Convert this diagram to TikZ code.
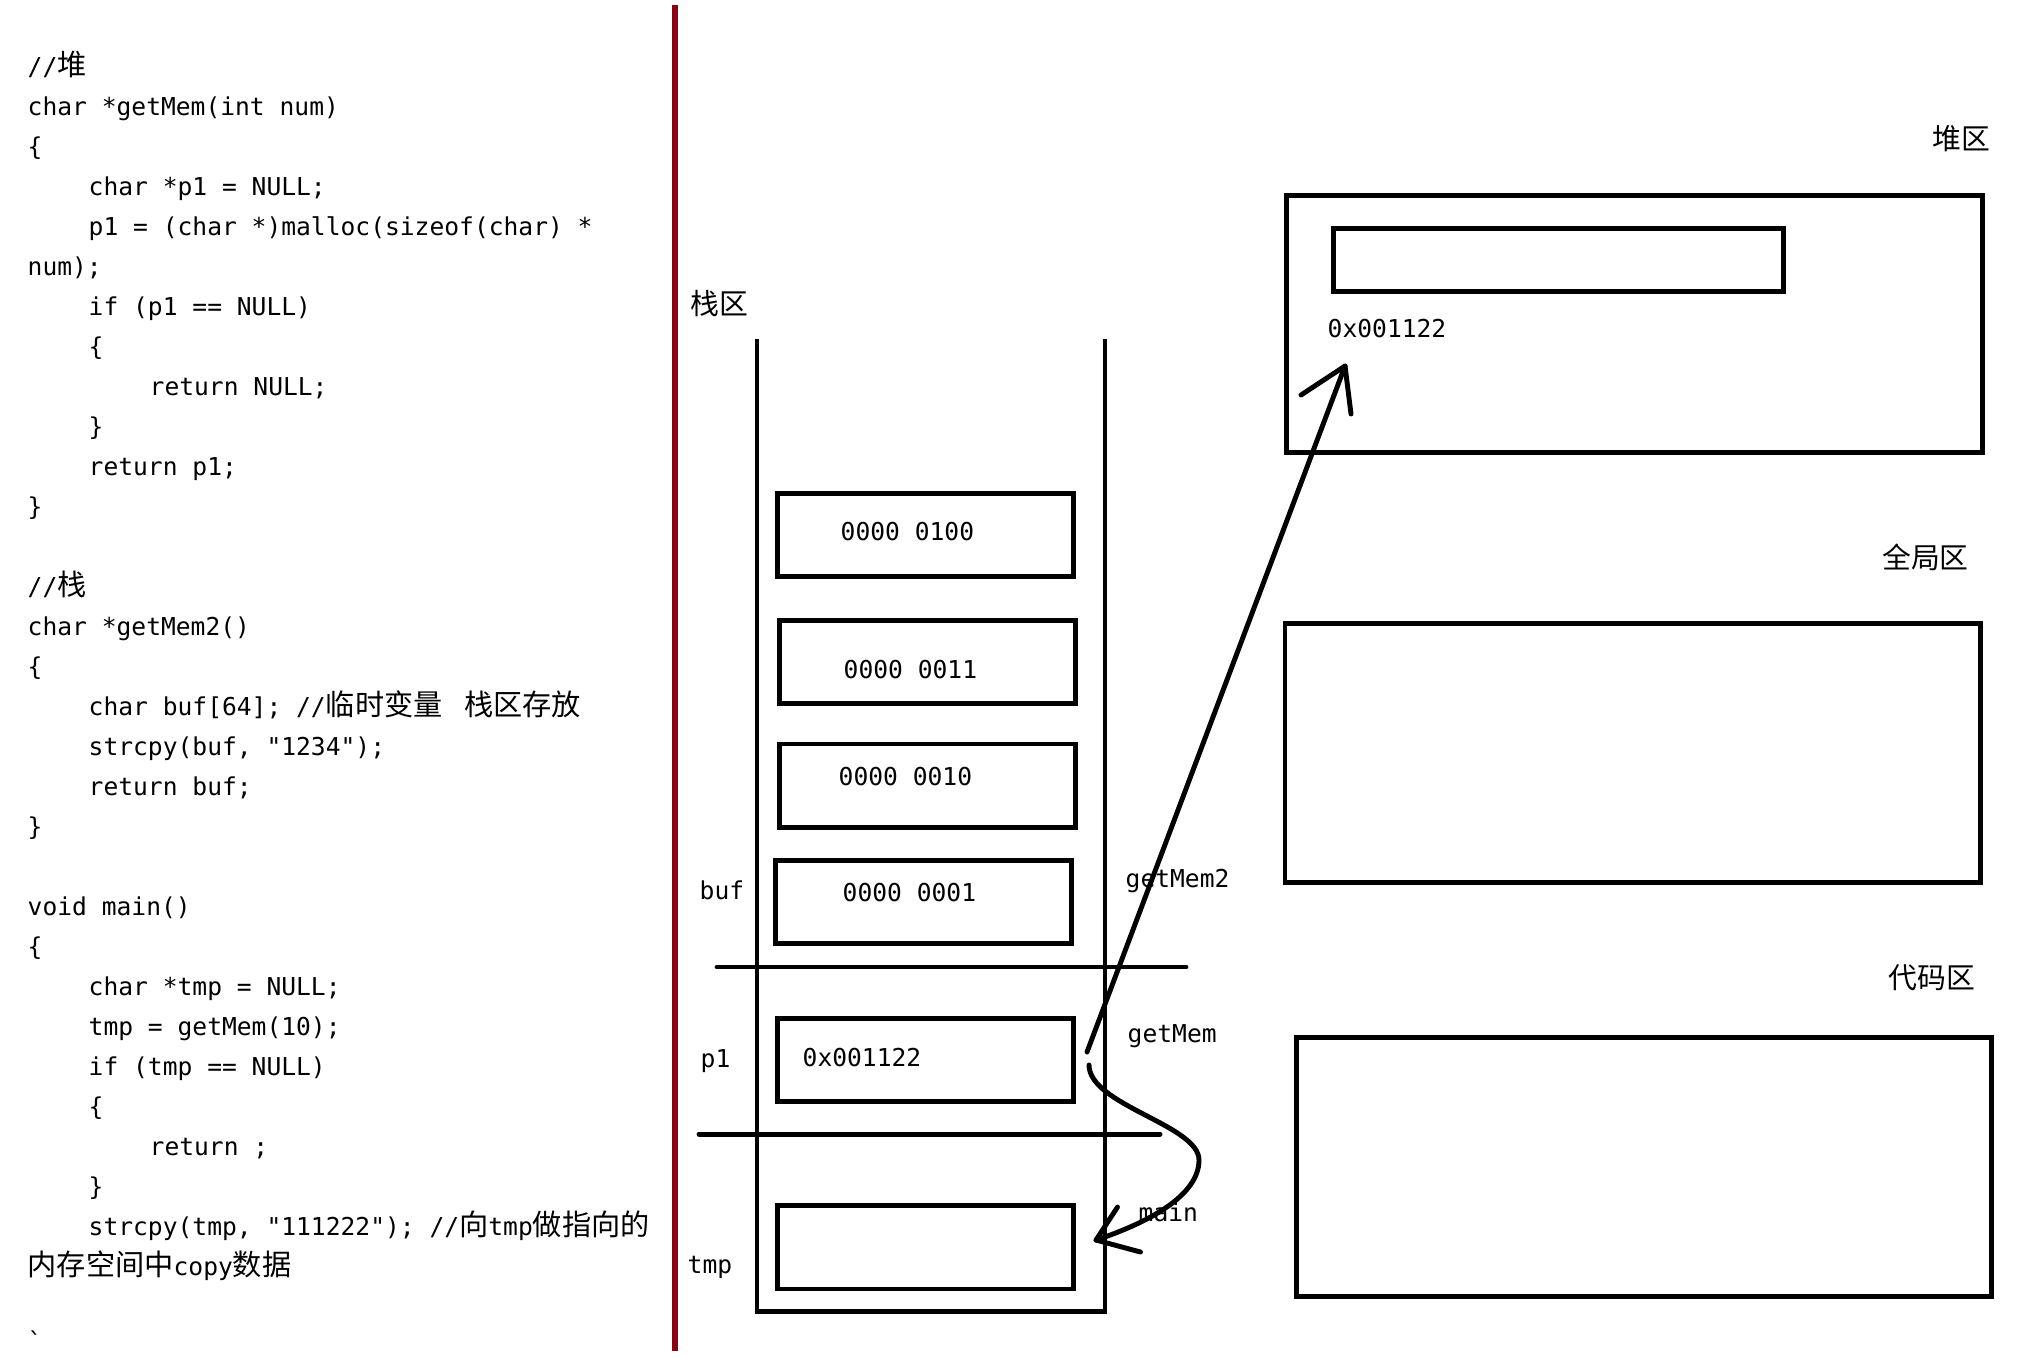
\documentclass[tikz,border=0pt]{standalone}
\usepackage{fontspec}
\newfontfamily\codefont{DejaVu Sans Mono}
\newfontfamily\cjkfont{Noto Sans CJK SC}
\newcommand\zhs[1]{{\cjkfont\fontsize{8.3pt}{11pt}\selectfont #1}}
\definecolor{divred}{RGB}{140,0,22}
\tikzset{
  lw/.style={line width=1.4pt},
  cell/.style={draw, lw, inner sep=0pt, minimum width=2.965cm, minimum height=0.83cm},
  area/.style={draw, lw, inner sep=0pt, minimum width=6.95cm, minimum height=2.59cm},
  code/.style={anchor=base west, inner sep=0pt, font={\codefont\fontsize{7pt}{11pt}\selectfont}},
  zone/.style={anchor=center, inner sep=0pt, font={\cjkfont\fontsize{8.2pt}{10pt}\selectfont}},
  pen/.style={lw, line cap=round, line join=round},
  wall/.style={lw},
  divider/.style={line width=1.45pt, color=divred}
}
\begin{document}
\begin{tikzpicture}[x=0.01cm, y=-0.01cm]
\useasboundingbox (0,0) rectangle (2022,1356);
\fill[white] (0,0) rectangle (2022,1356);

% ---------- code ----------
\node[code] (c0) at (27,75) {//\zhs{堆}};
\node[code] (c1) at (27,115) {char *getMem(int num)};
\node[code] (c2) at (27,155) {\{};
\node[code] (c3) at (88,195) {char *p1 = NULL;};
\node[code] (c4) at (88,235) {p1 = (char *)malloc(sizeof(char) *};
\node[code] (c5) at (27,275) {num);};
\node[code] (c6) at (88,315) {if (p1 == NULL)};
\node[code] (c7) at (88,355) {\{};
\node[code] (c8) at (149,395) {return NULL;};
\node[code] (c9) at (88,435) {\}};
\node[code] (c10) at (88,475) {return p1;};
\node[code] (c11) at (27,515) {\}};
\node[code] (c13) at (27,595) {//\zhs{栈}};
\node[code] (c14) at (27,635) {char *getMem2()};
\node[code] (c15) at (27,675) {\{};
\node[code] (c16) at (88,715) {char buf[64]; //\zhs{临时变量 \kern0.15cm栈区存放}};
\node[code] (c17) at (88,755) {strcpy(buf, "1234");};
\node[code] (c18) at (88,795) {return buf;};
\node[code] (c19) at (27,835) {\}};
\node[code] (c21) at (27,915) {void main()};
\node[code] (c22) at (27,955) {\{};
\node[code] (c23) at (88,995) {char *tmp = NULL;};
\node[code] (c24) at (88,1035) {tmp = getMem(10);};
\node[code] (c25) at (88,1075) {if (tmp == NULL)};
\node[code] (c26) at (88,1115) {\{};
\node[code] (c27) at (149,1155) {return ;};
\node[code] (c28) at (88,1195) {\}};
\node[code] (c29) at (88,1235) {strcpy(tmp, "111222"); //\zhs{向}tmp\zhs{做指向的}};
\node[code] (c30) at (27,1275) {\zhs{内存空间中}copy\zhs{数据}};
\node[code] (c32) at (27,1350) {`};

% ---------- divider ----------
\coordinate (dtop) at (675,5);
\coordinate (dbot) at (675,1351);
\draw[divider] (dtop) -- (dbot);

% ---------- stack ----------
\node[zone] (stackname) at (719,304) {栈区};
\draw[wall] (757,339) -- (757,1311) -- (1105,1311) -- (1105,339);
\node[cell] (b1) at (925.5,535.2) {};
\node[cell] (b2) at (927.5,661.6) {};
\node[cell] (b3) at (927.5,785.5) {};
\node[cell] (b4) at (923.5,901.7) {};
\node[cell] (b5) at (925.5,1060) {};
\node[cell] (b6) at (925.5,1247.4) {};
\node[code] (t1) at (840,540) {0000 0100};
\node[code] (t2) at (843,678) {0000 0011};
\node[code] (t3) at (838,785) {0000 0010};
\node[code] (t4) at (842,901) {0000 0001};
\node[code] (t5) at (802,1066) {0x001122};
\coordinate (s1a) at (717,967);
\coordinate (s1b) at (1186,967);
\coordinate (s2a) at (699,1134);
\coordinate (s2b) at (1160,1134);
\draw[pen] (s1a) -- (s1b);
\draw[pen] (s2a) -- (s2b);
\node[code] (lbuf) at (699,899) {buf};
\node[code] (lp1) at (700,1067) {p1};
\node[code] (ltmp) at (687,1273) {tmp};
\node[code] (lgm2) at (1125,887) {getMem2};
\node[code] (lgm) at (1127,1042) {getMem};
\node[code] (lmain) at (1138,1221) {main};

% ---------- heap ----------
\node[zone] (heapname) at (1961,139) {堆区};
\node[area, minimum height=2.57cm] (heap) at (1634.3,324.2) {};
\node[draw, lw, inner sep=0pt, minimum width=4.5cm, minimum height=0.63cm] (heapcell) at (1558.7,260.4) {};
\node[code] (haddr) at (1327,337.5) {0x001122};

% ---------- global ----------
\node[zone] (globname) at (1925.5,557) {全局区};
\node[area] (glob) at (1632.7,752.7) {};

% ---------- code area ----------
\node[zone] (codename) at (1932,978) {代码区};
\node[area] (codearea) at (1644,1167) {};

% ---------- arrow p1 -> heap ----------
\coordinate (a1s) at (1087,1052);
\coordinate (a1t) at (1345,366);
\coordinate (a1l) at (1301,395);
\coordinate (a1r) at (1351,414);
\draw[pen] (a1s) -- (a1t);
\draw[pen] (a1l) -- (a1t) -- (a1r);

% ---------- arrow getMem -> tmp ----------
\coordinate (a2s) at (1089,1065);
\coordinate (a2m) at (1199,1160);
\coordinate (a2t) at (1096,1240);
\coordinate (a2l) at (1117.5,1207);
\coordinate (a2r) at (1140.5,1252);
\draw[pen] (a2s) .. controls (1089,1105) and (1199,1125) .. (a2m)
                 .. controls (1199,1195) and (1150,1222) .. (a2t);
\draw[pen] (a2l) -- (a2t) -- (a2r);
\end{tikzpicture}
\end{document}
